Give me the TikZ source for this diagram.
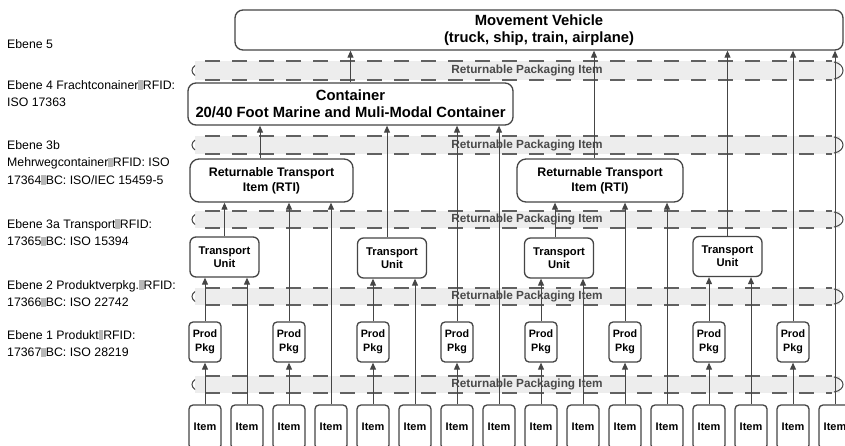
\documentclass[tikz,border=0pt]{standalone}
\usepackage{fontspec}
\setmainfont{Liberation Sans}
\usetikzlibrary{arrows.meta}
\definecolor{ln}{HTML}{454545}
\definecolor{bandfill}{HTML}{EDEDED}
\definecolor{bandtxt}{HTML}{4A4A4A}
\newcommand{\gbx}{{\color[gray]{0.72}\rule[-0.5pt]{4.5pt}{9.5pt}}}
\begin{document}
\begin{tikzpicture}[x=1pt,y=-1pt,
  box/.style={draw=ln, line width=1.3pt, fill=white, rounded corners=6pt, align=center, inner sep=0pt},
  itembox/.style={box, minimum width=32pt, minimum height=44pt, rounded corners=4pt, font=\bfseries\fontsize{11}{13}\selectfont},
  ppbox/.style={box, minimum width=32pt, minimum height=40pt, rounded corners=4pt, font=\bfseries\fontsize{10.7}{14}\selectfont},
  tubox/.style={box, minimum width=69pt, minimum height=40pt, font=\bfseries\fontsize{11.2}{13}\selectfont},
  rtibox/.style={box, minimum height=43pt, rounded corners=9pt, font=\bfseries\fontsize{12.4}{15}\selectfont},
  bigbox/.style={box, rounded corners=8pt, font=\bfseries\fontsize{14.8}{17}\selectfont},
  conn/.style={draw=ln, line width=1pt, -{Triangle[length=7pt,width=6pt]}},
  lbl/.style={anchor=north west, align=left, inner sep=0pt, font=\fontsize{12.3}{17.5}\selectfont},
  bandline/.style={draw=ln!85, line width=1.1pt, dash pattern=on 15pt off 12pt},
  bandlabel/.style={text=bandtxt, font=\bfseries\fontsize{11.8}{13}\selectfont, inner sep=0pt},
]
\useasboundingbox (0,0) rectangle (845,445);
\fill[white] (0,0) rectangle (845,445);

% bands
\foreach \a/\b [count=\i] in {61/80,136/154,211/228,288/305,376/393}{
  \pgfmathsetmacro\m{(\a+\b)/2}
  \fill[bandfill] (195,\a) rectangle (840,\b);
  \draw[bandline] (205,\a) -- (832,\a);
  \draw[bandline] (205,\b) -- (832,\b);
  \draw[ln, line width=1pt] (195,\m-5) .. controls (191,\m-2) and (191,\m+2) .. (195,\m+5);
  \draw[ln, line width=1pt] (834,\a+1) .. controls (846,\a+3) and (846,\b-3) .. (834,\b-1);
  \node[bandlabel] (band\i) at (527,\m) {Returnable Packaging Item};
}

% left labels
\node[lbl] (l5) at (7,39) {Ebene 5};
\node[lbl] (l4) at (7,80) {Ebene 4 Frachtconainer\gbx RFID:\\ISO 17363};
\node[lbl] (l3b) at (7,140) {Ebene 3b\\Mehrwegcontainer\gbx RFID: ISO\\17364\gbx BC: ISO/IEC 15459-5};
\node[lbl] (l3a) at (7,219) {Ebene 3a Transport\gbx RFID:\\17365\gbx BC: ISO 15394};
\node[lbl] (l2) at (7,280) {Ebene 2 Produktverpkg.\gbx RFID:\\17366\gbx BC: ISO 22742};
\node[lbl] (l1) at (7,330) {Ebene 1 Produkt\gbx RFID:\\17367\gbx BC: ISO 28219};

% boxes
\node[bigbox, minimum width=608pt, minimum height=40pt] (mv) at (539,30) {Movement Vehicle\\(truck, ship, train, airplane)};
\node[bigbox, minimum width=325pt, minimum height=42pt] (cont) at (350.5,104) {Container\\20/40 Foot Marine and Muli-Modal Container};
\node[rtibox, minimum width=163pt] (rti1) at (271.5,180.5) {Returnable Transport\\Item (RTI)};
\node[rtibox, minimum width=166pt] (rti2) at (600,180.5) {Returnable Transport\\Item (RTI)};
\node[tubox] (tu1) at (224.5,257) {Transport\\Unit};
\node[tubox] (tu2) at (392,258) {Transport\\Unit};
\node[tubox] (tu3) at (559,258) {Transport\\Unit};
\node[tubox] (tu4) at (727.5,256.5) {Transport\\Unit};
\foreach \k in {0,2,...,14}{
  \node[ppbox] (pp\k) at ({205+42*\k},342) {Prod\\Pkg};
}
\foreach \k in {0,...,15}{
  \node[itembox] (item\k) at ({205+42*\k},427) {Item};
}

% lanes for off-centre connectors
\coordinate (lr1) at (260,0);
\coordinate (lr2) at (594,0);
\coordinate (ltu2) at (387,0);
\coordinate (ltu3) at (555,0);

% connectors
\foreach \k in {0,2,...,14}{
  \draw[conn] (item\k) -- (pp\k);
}
\draw[conn] (pp0.north) -- (pp0.north |- tu1.south);
\draw[conn] (item1.north) -- (item1.north |- tu1.south);
\draw[conn] (pp4.north) -- (pp4.north |- tu2.south);
\draw[conn] (item5.north) -- (item5.north |- tu2.south);
\draw[conn] (pp8.north) -- (pp8.north |- tu3.south);
\draw[conn] (item9.north) -- (item9.north |- tu3.south);
\draw[conn] (pp12.north) -- (pp12.north |- tu4.south);
\draw[conn] (item13.north) -- (item13.north |- tu4.south);

\draw[conn] (tu1.north) -- (tu1.north |- rti1.south);
\draw[conn] (pp2.north) -- (pp2.north |- rti1.south);
\draw[conn] (item3.north) -- (item3.north |- rti1.south);
\draw[conn] (tu3.north -| ltu3) -- (rti2.south -| ltu3);
\draw[conn] (pp10.north) -- (pp10.north |- rti2.south);
\draw[conn] (item11.north) -- (item11.north |- rti2.south);

\draw[conn] (rti1.north -| lr1) -- (cont.south -| lr1);
\draw[conn] (tu2.north -| ltu2) -- (cont.south -| ltu2);
\draw[conn] (pp6.north) -- (pp6.north |- cont.south);
\draw[conn] (item7.north) -- (item7.north |- cont.south);

\draw[conn] (cont.north) -- (cont.north |- mv.south);
\draw[conn] (rti2.north -| lr2) -- (mv.south -| lr2);
\draw[conn] (tu4.north) -- (tu4.north |- mv.south);
\draw[conn] (pp14.north) -- (pp14.north |- mv.south);
\draw[conn] (item15.north) -- (item15.north |- mv.south);
\end{tikzpicture}
\end{document}
